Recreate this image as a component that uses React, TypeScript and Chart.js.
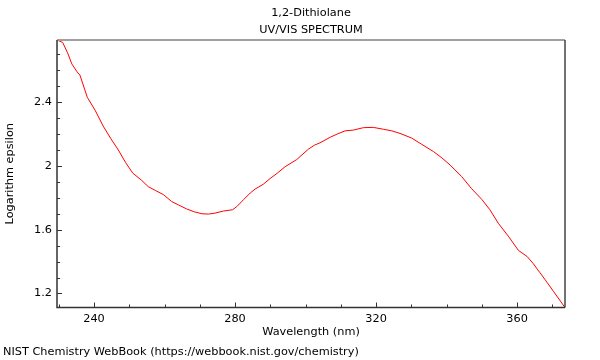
import React, { useEffect, useRef } from "react";
import { Chart, registerables } from "chart.js";

Chart.register(...registerables);

const titleLines = ["1,2-Dithiolane", "UV/VIS SPECTRUM"];
const xTitle = "Wavelength (nm)";
const yTitle = "Logarithm epsilon";
const footer = "NIST Chemistry WebBook (https://webbook.nist.gov/chemistry)";

const wavelengths = [
  229.5, 231.1, 232.5, 233.7, 235.2, 236.0, 238.1, 240.3, 242.6, 244.8, 246.9,
  249.0, 251.0, 253.5, 255.4, 257.5, 259.7, 262.0, 264.0, 266.3, 268.5, 270.6,
  272.5, 274.3, 276.7, 279.3, 280.5, 282.5, 284.3, 285.7, 288.0, 289.9, 292.0,
  294.2, 297.5, 300.8, 302.5, 304.1, 307.0, 309.0, 311.2, 313.6, 316.4, 319.2,
  322.1, 324.5, 326.8, 330.1, 333.0, 336.3, 338.7, 341.0, 344.3, 347.0, 350.0,
  352.3, 354.7, 357.5, 360.4, 362.8, 364.5, 366.5, 368.5, 370.3, 373.6,
];
const logEpsilon = [
  2.79, 2.775, 2.71, 2.64, 2.59, 2.57, 2.43, 2.35, 2.25, 2.17, 2.1,
  2.02, 1.955, 1.91, 1.87, 1.845, 1.82, 1.777, 1.755, 1.73, 1.712, 1.7,
  1.698, 1.704, 1.717, 1.725, 1.745, 1.79, 1.83, 1.855, 1.885, 1.92, 1.955,
  1.995, 2.04, 2.105, 2.13, 2.145, 2.18, 2.2, 2.22, 2.225, 2.24, 2.242,
  2.23, 2.22, 2.204, 2.175, 2.135, 2.09, 2.05, 2.006, 1.933, 1.86, 1.79,
  1.725, 1.64, 1.56, 1.47, 1.433, 1.39, 1.33, 1.27, 1.214, 1.112,
];

const xMajorTicks = [240, 280, 320, 360];
const xMinorTicks = [230, 250, 260, 270, 290, 300, 310, 330, 340, 350, 370];
const yMajorTicks = [1.2, 1.6, 2.0, 2.4];
const yMinorTicks = [1.3, 1.4, 1.5, 1.7, 1.8, 1.9, 2.1, 2.2, 2.3, 2.5, 2.6, 2.7];

const FONT = "'DejaVu Sans', sans-serif";
const FS = 11.3;

const textPlugin = {
  id: "headerFooter",
  afterDraw(chart: any) {
    const { ctx, chartArea } = chart;
    const cx = (chartArea.left + chartArea.right) / 2;
    ctx.save();
    ctx.font = `${FS}px ${FONT}`;
    ctx.fillStyle = "#000";
    ctx.textBaseline = "middle";
    ctx.textAlign = "center";
    ctx.fillText(titleLines[0], cx, 13);
    ctx.fillText(titleLines[1], cx, 30);
    ctx.textAlign = "left";
    ctx.fillText(footer, 3, 352);
    ctx.restore();
  },
};

const framePlugin = {
  id: "frameTicks",
  afterDatasetsDraw(chart: any) {
    const { ctx, chartArea, scales } = chart;
    const { left, right, top, bottom } = chartArea;
    const xs = scales.x;
    const ys = scales.y;
    ctx.save();
    ctx.lineWidth = 1;
    ctx.strokeStyle = "#333";
    const drawX = (v: number, len: number) => {
      const px = Math.round(xs.getPixelForValue(v)) + 0.5;
      ctx.beginPath();
      ctx.moveTo(px, bottom);
      ctx.lineTo(px, bottom - len);
      ctx.stroke();
    };
    const drawY = (v: number, len: number) => {
      const py = Math.round(ys.getPixelForValue(v)) + 0.5;
      ctx.beginPath();
      ctx.moveTo(left, py);
      ctx.lineTo(left + len, py);
      ctx.stroke();
    };
    xMajorTicks.forEach((v) => drawX(v, 5));
    xMinorTicks.forEach((v) => drawX(v, 3));
    yMajorTicks.forEach((v) => drawY(v, 5));
    yMinorTicks.forEach((v) => drawY(v, 3));

    ctx.strokeStyle = "#a0a0a0";
    ctx.lineWidth = 2;
    ctx.beginPath();
    ctx.moveTo(left, top);
    ctx.lineTo(right, top);
    ctx.stroke();
    ctx.strokeStyle = "#444";
    ctx.lineWidth = 1.5;
    ctx.beginPath();
    ctx.moveTo(right, top);
    ctx.lineTo(right, bottom);
    ctx.stroke();
    ctx.strokeStyle = "#333";
    ctx.lineWidth = 1.5;
    ctx.beginPath();
    ctx.moveTo(left, top);
    ctx.lineTo(left, bottom);
    ctx.lineTo(right, bottom);
    ctx.stroke();
    ctx.restore();
  },
};

export default function App() {
  const ref = useRef<HTMLCanvasElement | null>(null);

  useEffect(() => {
    if (!ref.current) return;
    const data = wavelengths.map((x, i) => ({ x, y: logEpsilon[i] }));
    const chart = new Chart(ref.current, {
      type: "line",
      data: {
        datasets: [
          {
            data,
            borderColor: "rgb(255,0,0)",
            borderWidth: 1,
            pointRadius: 0,
            tension: 0,
            fill: false,
          },
        ],
      },
      options: {
        responsive: false,
        animation: false,
        devicePixelRatio: 1,
        layout: { padding: { left: 0, right: 35, top: 40, bottom: 15.4 } },
        plugins: {
          legend: { display: false },
          tooltip: { enabled: false },
          title: { display: false },
          subtitle: { display: false },
        },
        scales: {
          x: {
            type: "linear",
            min: wavelengths[0],
            max: wavelengths[wavelengths.length - 1],
            grid: { display: false, drawTicks: false },
            border: { display: false },
            afterBuildTicks: (scale: any) => {
              scale.ticks = xMajorTicks.map((v) => ({ value: v }));
            },
            afterFit: (scale: any) => {
              scale.height = 37.1;
            },
            ticks: {
              color: "#000",
              padding: 4.4,
              maxRotation: 0,
              autoSkip: false,
              font: { family: FONT, size: FS, lineHeight: 1.2 },
              callback: (v: any) => String(v),
            },
            title: {
              display: true,
              text: xTitle,
              color: "#000",
              font: { family: FONT, size: FS, lineHeight: 1.2 },
              padding: { top: 0, bottom: 5.8 },
            },
          },
          y: {
            type: "linear",
            min: Math.min(...logEpsilon),
            max: Math.max(...logEpsilon),
            grid: { display: false, drawTicks: false },
            border: { display: false },
            afterBuildTicks: (scale: any) => {
              scale.ticks = yMajorTicks.map((v) => ({ value: v }));
            },
            afterFit: (scale: any) => {
              scale.width = 57;
            },
            ticks: {
              color: "#000",
              padding: 5,
              autoSkip: false,
              font: { family: FONT, size: FS },
              callback: (v: any) => String(Math.round(v * 10) / 10),
            },
            title: {
              display: true,
              text: yTitle,
              color: "#000",
              font: { family: FONT, size: FS, lineHeight: 1.2 },
              padding: { top: 3.2, bottom: 0 },
            },
          },
        },
      },
      plugins: [framePlugin, textPlugin],
    });
    return () => chart.destroy();
  }, []);

  return (
    <div style={{ position: "fixed", left: 0, top: 0, width: 600, height: 360, background: "#fff" }}>
      <canvas ref={ref} width={600} height={360} style={{ width: 600, height: 360 }} />
    </div>
  );
}
